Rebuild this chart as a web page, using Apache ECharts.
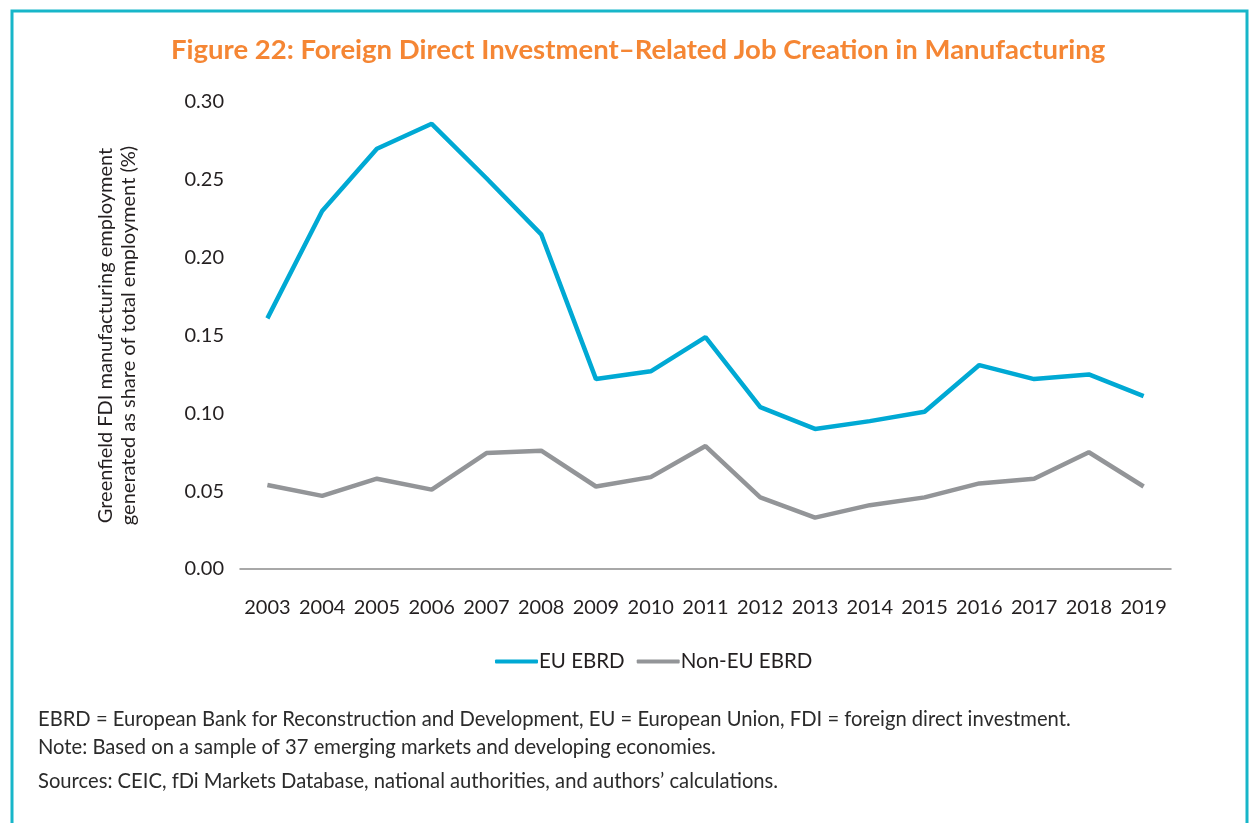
<!DOCTYPE html>
<html>
<head>
<meta charset="utf-8">
<script src="https://cdn.jsdelivr.net/npm/echarts@6/dist/echarts.min.js"></script>
<style>
  html, body { margin: 0; padding: 0; background: #fff; }
  #chart { width: 1251px; height: 823px; }
</style>
</head>
<body>
<div id="chart"></div>
<script>
const years = ["2003", "2004", "2005", "2006", "2007", "2008", "2009", "2010", "2011",
  "2012", "2013", "2014", "2015", "2016", "2017", "2018", "2019"];
const euEbrd = [0.161, 0.230, 0.270, 0.286, 0.251, 0.215, 0.122, 0.127, 0.149,
  0.104, 0.090, 0.095, 0.101, 0.131, 0.122, 0.125, 0.111];
const nonEuEbrd = [0.054, 0.047, 0.058, 0.051, 0.0745, 0.076, 0.053, 0.059, 0.079,
  0.046, 0.033, 0.041, 0.046, 0.055, 0.058, 0.075, 0.053];
const footnotes = [
  "EBRD = European Bank for Reconstruction and Development, EU = European Union, FDI = foreign direct investment.",
  "Note: Based on a sample of 37 emerging markets and developing economies.",
  "Sources: CEIC, fDi Markets Database, national authorities, and authors\u2019 calculations.",
];

const FONT = "Lato, 'Noto Sans', sans-serif";
const TEXT = "#231f20";
const chart = echarts.init(document.getElementById("chart"));

const footnoteTexts = footnotes.map((line, i) => ({
  type: "text",
  left: 38,
  top: [709, 737, 771][i],
  style: { text: line, font: `20.2px ${FONT}`, fill: "#2b2b2b" },
}));

chart.setOption({
  animation: false,
  backgroundColor: "#fff",
  title: {
    text: "Figure 22: Foreign Direct Investment\u2013Related Job Creation in Manufacturing",
    left: 166,
    top: 31,
    textStyle: { color: "#f58634", fontFamily: FONT, fontWeight: "bold", fontSize: 27.5 },
  },
  grid: { left: 240, right: 80, top: 102, bottom: 254 },
  legend: {
    bottom: 146,
    left: 490,
    itemWidth: 43,
    itemHeight: 4,
    itemGap: 12,
    icon: "roundRect",
    textStyle: { color: TEXT, fontFamily: FONT, fontSize: 20.5, padding: [0, 0, 0, -4] },
    data: ["EU EBRD", "Non-EU EBRD"],
  },
  xAxis: {
    type: "category",
    data: years,
    boundaryGap: true,
    axisLine: { lineStyle: { color: "#8c8c8c", width: 1.5 } },
    axisTick: { show: false },
    axisLabel: { color: TEXT, fontFamily: FONT, fontSize: 20, margin: 29, interval: 0 },
  },
  yAxis: {
    type: "value",
    min: 0,
    max: 0.3,
    interval: 0.05,
    name: "Greenfield FDI manufacturing employment\ngenerated as share of total employment (%)",
    nameLocation: "middle",
    nameRotate: 90,
    nameGap: 100,
    nameTextStyle: { color: TEXT, fontFamily: FONT, fontSize: 20, lineHeight: 23 },
    axisLine: { show: false },
    axisTick: { show: false },
    splitLine: { show: false },
    axisLabel: {
      color: TEXT, fontFamily: FONT, fontSize: 20, margin: 16,
      formatter: (v) => v.toFixed(2),
    },
  },
  series: [
    {
      name: "EU EBRD",
      type: "line",
      data: euEbrd,
      showSymbol: false,
      color: "#00a9d4",
      lineStyle: { width: 4.5, color: "#00a9d4" },
    },
    {
      name: "Non-EU EBRD",
      type: "line",
      data: nonEuEbrd,
      showSymbol: false,
      color: "#939598",
      lineStyle: { width: 4.5, color: "#939598" },
    },
  ],
  graphic: [
    {
      type: "polyline",
      shape: { points: [[12, 840], [12, 11], [1247, 11], [1247, 840]] },
      style: { stroke: "#17b6c9", lineWidth: 3, fill: null },
    },
    ...footnoteTexts,
  ],
});
</script>
</body>
</html>
